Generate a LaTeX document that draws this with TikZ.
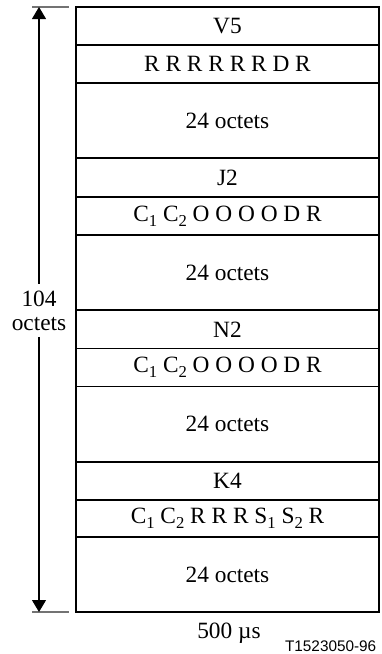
\documentclass[tikz,border=0pt]{standalone}
\usepackage{fontspec}
\setmainfont{Liberation Serif}
\newfontfamily\figsans{Liberation Sans}
\usepackage{tikz}
\usetikzlibrary{arrows.meta, positioning}
\newcommand{\lowidx}[1]{\raisebox{-0.45ex}{\fontsize{12.5}{12.5}\selectfont #1}}

\begin{document}
\begin{tikzpicture}[x=0.75pt, y=-0.75pt,
    field/.style={draw, line width=1.1pt, minimum width=227.25pt, inner sep=0pt, font=\fontsize{17.5}{20}\selectfont},
    hdr/.style={field, minimum height=28.5pt},
    payload/.style={field, minimum height=56.5pt},
    lenlbl/.style={anchor=base, inner sep=0pt, outer sep=5pt, font=\fontsize{17.5}{20}\selectfont},
    arr/.style={-{Triangle[width=10.5pt, length=9pt]}, line width=0.8pt},
    tick/.style={draw=black!55, line width=1pt}
]
    \useasboundingbox (0,0) rectangle (382,654);

    % Fields of the multiframe
    \node[hdr] (v5) at (227.5, 26) {V5};
    \node[hdr] (v5b) at (227.5, 64) {R R R R R R D R};
    \node[payload] (p1) at (227.5, 120.5) {24 octets};
    \node[hdr] (j2) at (227.5, 177.5) {J2};
    \node[hdr] (j2b) at (227.5, 216) {C\lowidx{1} C\lowidx{2} O O O O D R};
    \node[payload] (p2) at (227.5, 272.5) {24 octets};
    \node[hdr] (n2) at (227.5, 329.5) {N2};
    \node[hdr] (n2b) at (227.5, 367.5) {C\lowidx{1} C\lowidx{2} O O O O D R};
    \node[payload] (p3) at (227.5, 424) {24 octets};
    \node[hdr] (k4) at (227.5, 481) {K4};
    \node[hdr] (k4b) at (227.5, 518.5) {C\lowidx{1} C\lowidx{2} R R R S\lowidx{1} S\lowidx{2} R};
    \node[payload] (p4) at (227.5, 574.5) {24 octets};

    % Length arrow
    \draw[tick] (32,7) -- (69,7);
    \draw[tick] (32,612) -- (69,612);
    \coordinate (ltop) at (39,7);
    \coordinate (lbot) at (39,612);
    \node[lenlbl] (lennum) at (39,306) {104};
    \node[lenlbl] (lenunit) at (39,330) {octets};
    \draw[arr] (lennum) -- (ltop);
    \draw[arr] (lenunit) -- (lbot);

    % Time label and figure number
    \node[font=\fontsize{17.5}{20}\selectfont] (time) at (229,633) {500 µs};
    \node[anchor=east, font=\figsans\fontsize{11.5}{13}\selectfont] (fig) at (381,646) {T1523050-96};
\end{tikzpicture}
\end{document}
